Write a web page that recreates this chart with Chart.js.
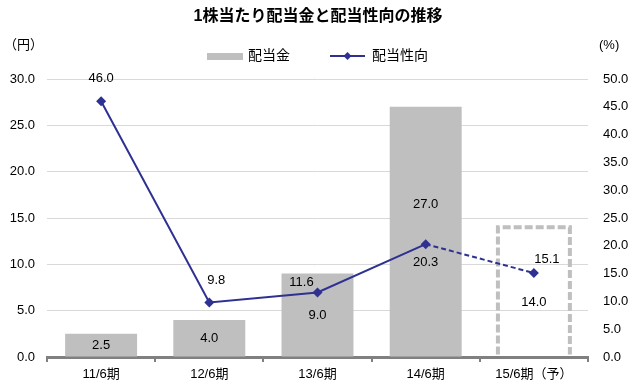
<!DOCTYPE html>
<html>
<head>
<meta charset="utf-8">
<script src="https://cdn.jsdelivr.net/npm/chart.js@4/dist/chart.umd.min.js"></script>
<style>
  html, body { margin: 0; padding: 0; background: #fff; }
  canvas { display: block; }
</style>
</head>
<body>
<canvas id="dividendChart" width="636" height="389"></canvas>
<script>
// 1株当たり配当金と配当性向の推移
const categories = ['11/6期', '12/6期', '13/6期', '14/6期', '15/6期（予）'];
const dividend = [2.5, 4.0, 9.0, 27.0, 14.0];        // 円
const payoutRatio = [46.0, 9.8, 11.6, 20.3, 15.1];   // %
const leftTicks = [0, 5, 10, 15, 20, 25, 30];
const rightTicks = [0, 5, 10, 15, 20, 25, 30, 35, 40, 45, 50];

const forecastIndex = categories.length - 1;
const barGray = '#bfbfbf';
const lineBlue = '#2e3192';
const jpFont = '"Liberation Sans", "Noto Sans CJK JP", sans-serif';

// label offsets (px) relative to bar centre / point
const barLabelShift = { 3: -27, 4: 11 };
const lineLabelShift = [[0, -23], [7, -22], [-16, -10], [0, 18], [13, -14]];

const forecastBox = {
    id: 'forecastBox',
    afterDatasetDraw(chart, args) {
        if (args.meta.type !== 'bar') return;
        const el = args.meta.data[forecastIndex];
        const { x, y, width, base } = el.getProps(['x', 'y', 'width', 'base'], true);
        const ctx = chart.ctx;
        ctx.save();
        ctx.setLineDash([8, 3]);
        ctx.lineWidth = 4;
        ctx.strokeStyle = barGray;
        ctx.beginPath();
        ctx.moveTo(x - width / 2, base - 2);
        ctx.lineTo(x - width / 2, y);
        ctx.lineTo(x + width / 2, y);
        ctx.lineTo(x + width / 2, base - 2);
        ctx.stroke();
        ctx.restore();
    }
};

const valueLabels = {
    id: 'valueLabels',
    afterDatasetsDraw(chart) {
        const ctx = chart.ctx;
        ctx.save();
        ctx.font = '13px ' + jpFont;
        ctx.fillStyle = '#000';
        ctx.textAlign = 'center';
        ctx.textBaseline = 'middle';
        chart.getDatasetMeta(0).data.forEach((el, i) => {
            const { x, y, base } = el.getProps(['x', 'y', 'base'], true);
            ctx.fillText(dividend[i].toFixed(1), x, (y + base) / 2 + (barLabelShift[i] || 0));
        });
        chart.getDatasetMeta(1).data.forEach((el, i) => {
            const { x, y } = el.getProps(['x', 'y'], true);
            ctx.fillText(payoutRatio[i].toFixed(1), x + lineLabelShift[i][0], y + lineLabelShift[i][1]);
        });
        ctx.restore();
    }
};

const header = {
    id: 'header',
    afterDraw(chart) {
        const ctx = chart.ctx;
        ctx.save();
        ctx.fillStyle = '#000';
        ctx.textBaseline = 'middle';
        ctx.textAlign = 'center';
        ctx.font = 'bold 16px ' + jpFont;
        ctx.fillText('1株当たり配当金と配当性向の推移', 318, 17);

        ctx.font = '13px ' + jpFont;
        ctx.textAlign = 'left';
        ctx.fillText('（円）', 4, 45);
        ctx.fillText('(%)', 599, 45);

        // legend
        ctx.font = '14px ' + jpFont;
        ctx.fillStyle = barGray;
        ctx.fillRect(207, 53, 36, 7);
        ctx.fillStyle = '#000';
        ctx.fillText(chart.data.datasets[0].label, 248, 56);
        ctx.strokeStyle = lineBlue;
        ctx.lineWidth = 2;
        ctx.beginPath();
        ctx.moveTo(330, 56);
        ctx.lineTo(365, 56);
        ctx.stroke();
        ctx.fillStyle = lineBlue;
        ctx.beginPath();
        ctx.moveTo(347.5, 52);
        ctx.lineTo(351.5, 56);
        ctx.lineTo(347.5, 60);
        ctx.lineTo(343.5, 56);
        ctx.closePath();
        ctx.fill();
        ctx.fillStyle = '#000';
        ctx.fillText(chart.data.datasets[1].label, 372, 56);
        ctx.restore();
    }
};

const ctx = document.getElementById('dividendChart').getContext('2d');
new Chart(ctx, {
    type: 'bar',
    data: {
        labels: categories,
        datasets: [{
            type: 'bar',
            label: '配当金',
            data: dividend,
            yAxisID: 'y',
            backgroundColor: dividend.map((v, i) => i === forecastIndex ? 'rgba(0,0,0,0)' : barGray),
            borderWidth: 0,
            barPercentage: 0.665,
            categoryPercentage: 1,
            order: 1
        }, {
            type: 'line',
            label: '配当性向',
            data: payoutRatio,
            yAxisID: 'y1',
            borderColor: lineBlue,
            backgroundColor: lineBlue,
            borderWidth: 2,
            pointStyle: 'rectRot',
            pointRadius: 5,
            pointBackgroundColor: lineBlue,
            pointBorderWidth: 0,
            tension: 0,
            segment: {
                borderDash: c => c.p1DataIndex === forecastIndex ? [5, 3] : undefined
            },
            order: 0
        }]
    },
    options: {
        responsive: false,
        animation: false,
        layout: { padding: { top: 79, left: 0, right: 0, bottom: 0 } },
        scales: {
            x: {
                grid: {
                    offset: true,
                    drawOnChartArea: false,
                    tickLength: 5,
                    color: '#808080',
                    lineWidth: 2
                },
                border: { color: '#808080', width: 3 },
                ticks: {
                    color: '#000',
                    padding: 5,
                    font: { family: jpFont, size: 13 }
                },
                afterFit: s => { s.height = 32; }
            },
            y: {
                position: 'left',
                min: 0,
                max: 30,
                afterBuildTicks: s => { s.ticks = leftTicks.map(v => ({ value: v })); },
                grid: { color: '#d9d9d9', lineWidth: 1, drawTicks: false },
                border: { display: false },
                ticks: {
                    color: '#000',
                    padding: 12,
                    font: { family: jpFont, size: 13 },
                    callback: v => v.toFixed(1)
                },
                afterFit: s => { s.width = 47; }
            },
            y1: {
                position: 'right',
                min: 0,
                max: 50,
                afterBuildTicks: s => { s.ticks = rightTicks.map(v => ({ value: v })); },
                grid: { display: false, drawTicks: false },
                border: { display: false },
                ticks: {
                    color: '#000',
                    padding: 15,
                    font: { family: jpFont, size: 13 },
                    callback: v => v.toFixed(1)
                },
                afterFit: s => { s.width = 48; }
            }
        },
        plugins: {
            legend: { display: false },
            title: { display: false },
            tooltip: { enabled: false }
        }
    },
    plugins: [forecastBox, valueLabels, header]
});
</script>
</body>
</html>
